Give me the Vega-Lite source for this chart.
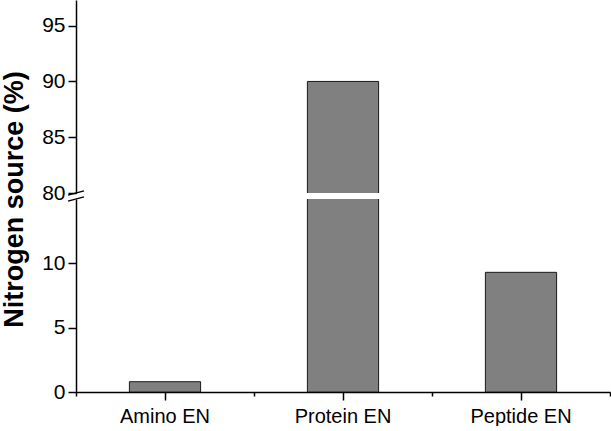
{
  "$schema": "https://vega.github.io/schema/vega-lite/v6.json",
  "padding": {"left": 0, "top": 0, "right": 2, "bottom": 0},
  "bounds": "flush",
  "spacing": 6,
  "background": "white",
  "config": {
    "view": {"stroke": null},
    "font": "Liberation Sans",
    "axis": {
      "domainColor": "black",
      "domainWidth": 1.5,
      "tickColor": "black",
      "tickWidth": 1.5,
      "labelColor": "black",
      "labelFont": "Liberation Sans",
      "labelFontSize": 21,
      "grid": false
    }
  },
  "datasets": {
    "bars": [
      {"category": "Amino EN", "value": 0.8},
      {"category": "Protein EN", "value": 90},
      {"category": "Peptide EN", "value": 9.3}
    ]
  },
  "vconcat": [
    {
      "width": 534,
      "height": 193,
      "layer": [
        {
          "data": {"name": "bars"},
          "mark": {"type": "bar", "clip": true, "fill": "#808080", "stroke": "#1a1a1a", "strokeWidth": 1},
          "encoding": {
            "x": {"field": "category", "type": "nominal", "sort": null, "scale": {"paddingInner": 0.6, "paddingOuter": 0.3}, "axis": null},
            "y": {"field": "value", "type": "quantitative", "scale": {"domain": [80, 97.3], "nice": false, "zero": false},
                  "axis": {"values": [80, 85, 90, 95], "title": null, "tickSize": 8, "labelPadding": 3}},
            "y2": {"datum": 0}
          }
        },
        {
          "data": {"values": [{"pos": 0, "level": 80}]},
          "mark": {"type": "point", "shape": "M-1,0.27L1,-0.27", "size": 256, "filled": false, "stroke": "black", "strokeWidth": 1.4, "opacity": 1},
          "encoding": {
            "x": {"field": "pos", "type": "quantitative", "scale": {"domain": [0, 3]}, "axis": null},
            "y": {"field": "level", "type": "quantitative"}
          }
        }
      ],
      "resolve": {"scale": {"x": "independent"}}
    },
    {
      "width": 534,
      "height": 193,
      "layer": [
        {
          "data": {"name": "bars"},
          "mark": {"type": "bar", "clip": true, "fill": "#808080", "stroke": "#1a1a1a", "strokeWidth": 1},
          "encoding": {
            "x": {"field": "category", "type": "nominal", "sort": null, "scale": {"paddingInner": 0.6, "paddingOuter": 0.3},
                  "axis": {"orient": "bottom", "title": null, "labelAngle": 0, "tickSize": 8, "labelPadding": 6, "labelFontSize": 20}},
            "y": {"field": "value", "type": "quantitative", "scale": {"domain": [0, 15], "nice": false},
                  "axis": {"values": [0, 5, 10], "title": "Nitrogen source (%)", "tickSize": 8, "labelPadding": 3,
                           "titleFont": "Liberation Sans", "titleFontSize": 27, "titleFontWeight": "bold", "titleColor": "black",
                           "titleAngle": -90, "titleX": -62, "titleY": 0, "titleBaseline": "middle", "titleAlign": "center"}},
            "y2": {"datum": 0}
          }
        },
        {
          "data": {"values": [{"pos": 0, "level": 15}]},
          "mark": {"type": "point", "shape": "M-1,0.27L1,-0.27", "size": 256, "filled": false, "stroke": "black", "strokeWidth": 1.4, "opacity": 1},
          "encoding": {
            "x": {"field": "pos", "type": "quantitative", "scale": {"domain": [0, 3], "nice": false},
                  "axis": {"orient": "bottom", "values": [0, 1, 2, 3], "tickSize": 4, "labels": false, "domain": false, "title": null}},
            "y": {"field": "level", "type": "quantitative"}
          }
        }
      ],
      "resolve": {"scale": {"x": "independent"}}
    }
  ]
}
